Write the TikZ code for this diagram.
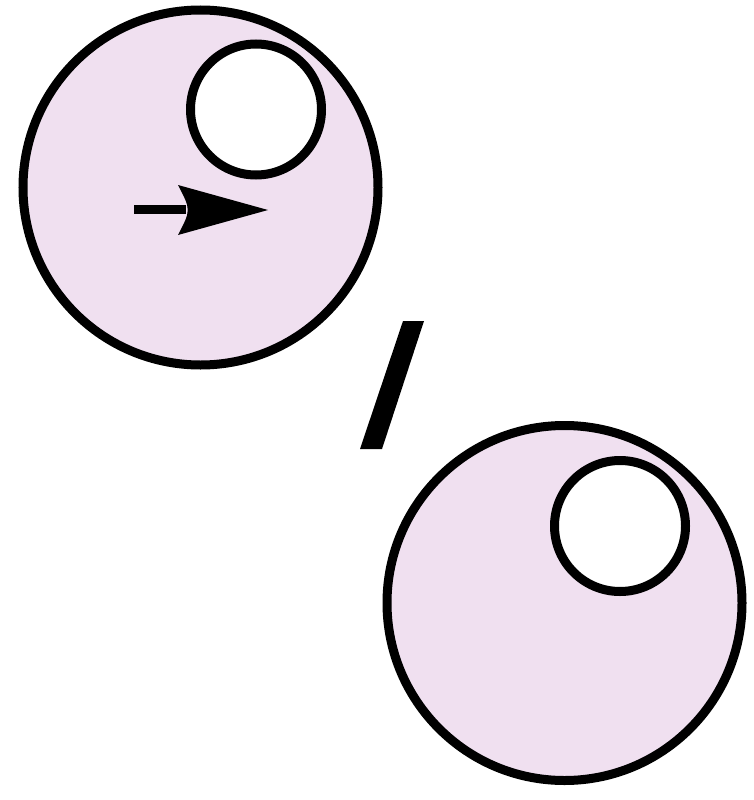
\documentclass[tikz,border=0pt]{standalone}
\definecolor{cellpink}{RGB}{240,224,240}
\begin{document}
\begin{tikzpicture}[x=1pt,y=-1pt,
  bigcell/.style={circle,draw=black,line width=9pt,fill=cellpink,minimum size=355pt,inner sep=0pt,outer sep=0pt},
  hole/.style={circle,draw=black,line width=9pt,fill=white,minimum size=131pt,inner sep=0pt,outer sep=0pt}]
\useasboundingbox (0,0) rectangle (753,800);
\node[bigcell] (c1) at (200.5,187.5) {};
\node[hole] (h1) at (256,109.5) {};
\node[bigcell] (c2) at (564.5,603) {};
\node[hole] (h2) at (620,526) {};
% arrow
\coordinate (as) at (134,209.5);
\coordinate (ae) at (186,209.5);
\draw[line width=9pt] (as) -- (ae);
\fill (178,185) -- (268,210) -- (178,235) .. controls (191,210) .. (178,185) -- cycle;
% slash
\fill (403,321) -- (424,321) -- (382,449) -- (360,449) -- cycle;
\end{tikzpicture}
\end{document}
